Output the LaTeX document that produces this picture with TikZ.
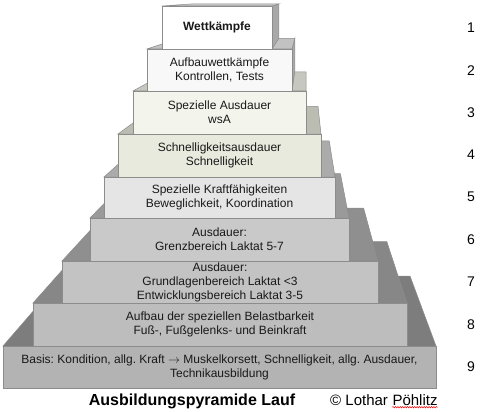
\documentclass[tikz,border=0pt]{standalone}
\usepackage{fontspec}
\setmainfont{Liberation Sans}
\usetikzlibrary{decorations.pathmorphing}
\frenchspacing
\definecolor{edgecol}{HTML}{8C8C8C}
\definecolor{sidecol}{HTML}{A8A8A8}
\definecolor{fa}{HTML}{FFFFFF}\definecolor{ta}{HTML}{C8C8C8}
\definecolor{fb}{HTML}{F8F8F8}\definecolor{tb}{HTML}{C2C2C2}
\definecolor{fc}{HTML}{F3F5ED}\definecolor{tc}{HTML}{C6C8BF}
\definecolor{fd}{HTML}{E8EADE}\definecolor{td}{HTML}{BBBDB3}
\definecolor{fe}{HTML}{E5E5E5}\definecolor{te}{HTML}{ABABAB}
\definecolor{ff}{HTML}{C9C9C9}\definecolor{tf}{HTML}{9A9A9A}
\definecolor{fg}{HTML}{C3C3C3}\definecolor{tg}{HTML}{8F8F8F}
\definecolor{fh}{HTML}{BDBDBD}\definecolor{th}{HTML}{878787}
\definecolor{fi}{HTML}{B3B3B3}\definecolor{ti}{HTML}{7D7D7D}
\tikzset{
  frontface/.style={draw=edgecol, line width=0.6pt, inner sep=0pt, align=center,
    font=\fontsize{12}{14}\selectfont, text=black!90},
  topface/.style={draw=edgecol, line width=0.5pt},
  levelnum/.style={font=\fontsize{14}{16}\selectfont, inner sep=0pt},
}
% name, x1, x2, y1, y2, front colour, top colour, text
\newcommand\pyrlevel[8]{%
  \pgfmathsetmacro\xbl{61.2+0.8*#2}%
  \pgfmathsetmacro\xbr{61.2+0.8*#3}%
  \pgfmathsetmacro\ybt{-0.8+0.8*#4}%
  \pgfmathsetmacro\ybb{-0.8+0.8*#5}%
  \ifdim #3pt<306pt
    \draw[topface, fill=sidecol] (#3,#4) -- (\xbr,\ybt) -- (\xbr,\ybb) -- (#3,#5) -- cycle;
  \fi
  \draw[topface, fill=#7] (#2,#4) -- (#3,#4) -- (\xbr,\ybt) -- (\xbl,\ybt) -- cycle;
  \node[frontface, fill=#6, minimum width=#3pt-#2pt, minimum height=#5pt-#4pt]
    (#1) at ({(#2+#3)/2},{(#4+#5)/2}) {#8};
}
\begin{document}
\begin{tikzpicture}[x=1pt, y=-1pt]
\useasboundingbox (0,0) rectangle (493,412);
\pyrlevel{l9}{3}{436}{346}{388}{fi}{ti}{Basis: Kondition, allg. Kraft $\rightarrow$ Muskelkorsett, Schnelligkeit, allg. Ausdauer,\\Technikausbildung}
\pyrlevel{l8}{33}{407}{303}{346}{fh}{th}{Aufbau der speziellen Belastbarkeit\\Fuß-, Fußgelenks- und Beinkraft}
\pyrlevel{l7}{62}{378}{261}{303}{fg}{tg}{Ausdauer:\\Grundlagenbereich Laktat <3\\Entwicklungsbereich Laktat 3-5}
\pyrlevel{l6}{90}{349}{218}{261}{ff}{tf}{Ausdauer:\\Grenzbereich Laktat 5-7}
\pyrlevel{l5}{104}{335}{177}{218}{fe}{te}{Spezielle Kraftfähigkeiten\\Beweglichkeit, Koordination}
\pyrlevel{l4}{118}{321}{134}{177}{fd}{td}{Schnelligkeitsausdauer\\Schnelligkeit}
\pyrlevel{l3}{133}{306}{91}{134}{fc}{tc}{Spezielle Ausdauer\\wsA}
\pyrlevel{l2}{147}{292}{49}{91}{fb}{tb}{Aufbauwettkämpfe\\Kontrollen, Tests}
\pyrlevel{l1}{162}{272}{6}{49}{fa}{ta}{\textbf{Wettkämpfe}}
\node[levelnum] (n1) at (471,28) {1};
\node[levelnum] (n2) at (471,71) {2};
\node[levelnum] (n3) at (471,113) {3};
\node[levelnum] (n4) at (471,155) {4};
\node[levelnum] (n5) at (471,197) {5};
\node[levelnum] (n6) at (471,240) {6};
\node[levelnum] (n7) at (471,282) {7};
\node[levelnum] (n8) at (471,325) {8};
\node[levelnum] (n9) at (471,367) {9};
\node[font=\fontsize{16}{18}\selectfont\bfseries, inner sep=0pt, anchor=base] (title) at (192,405) {Ausbildungspyramide Lauf};
\node[font=\fontsize{15}{17}\selectfont, inner sep=0pt, anchor=base west] (lothar) at (330,405) {© Lothar};
\node[font=\fontsize{15}{17}\selectfont, inner sep=0pt, anchor=base west] (pname) at ([xshift=4.2pt]lothar.base east) {Pöhlitz};
\draw[red, line width=0.5pt, decorate, decoration={snake, amplitude=0.7pt, segment length=2.4pt}]
  ([yshift=-2.2pt]pname.base west) -- ([yshift=-2.2pt]pname.base east);
\end{tikzpicture}
\end{document}
